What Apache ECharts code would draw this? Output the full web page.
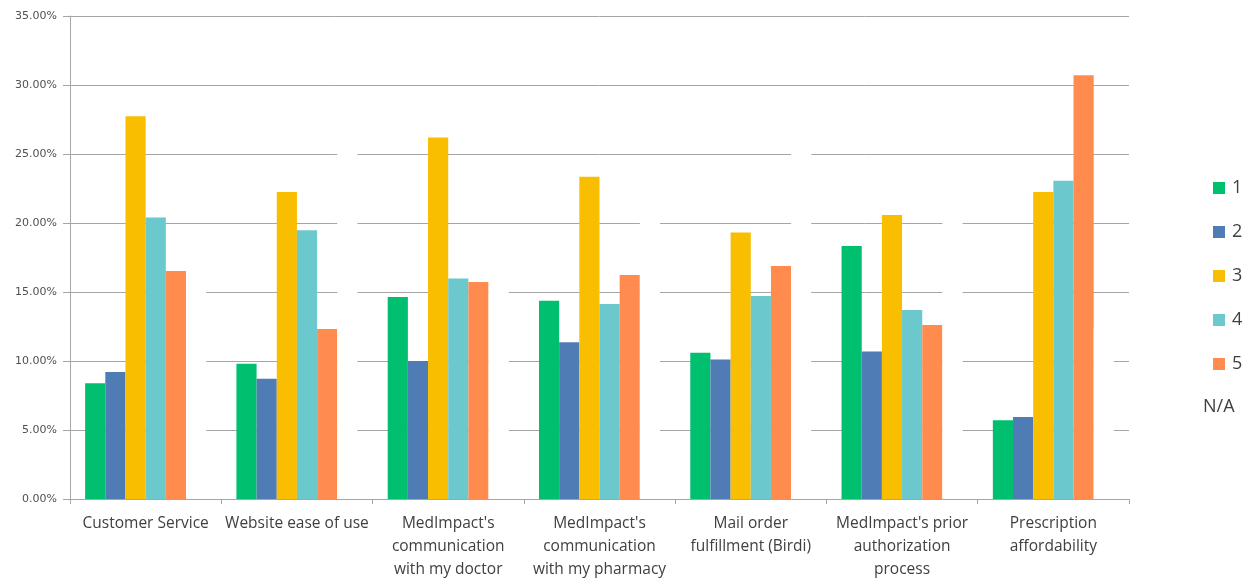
<!DOCTYPE html>
<html>
<head>
<meta charset="utf-8">
<script src="https://cdn.jsdelivr.net/npm/echarts@6/dist/echarts.min.js"></script>
<style>
  html, body { margin: 0; padding: 0; background: #fff; }
  #main { width: 1256px; height: 581px; }
</style>
</head>
<body>
<div id="main"></div>
<script>
// categories on the x axis
var categories = [
  "Customer Service",
  "Website ease of use",
  "MedImpact's\ncommunication\nwith my doctor",
  "MedImpact's\ncommunication\nwith my pharmacy",
  "Mail order\nfulfillment (Birdi)",
  "MedImpact's prior\nauthorization\nprocess",
  "Prescription\naffordability"
];

// rating shares, in percent
var rating1 = [8.38, 9.80, 14.64, 14.37, 10.60, 18.33, 5.70];
var rating2 = [9.20, 8.72, 10.00, 11.35, 10.10, 10.68, 5.94];
var rating3 = [27.73, 22.25, 26.20, 23.36, 19.32, 20.58, 22.25];
var rating4 = [20.40, 19.47, 15.97, 14.13, 14.71, 13.70, 23.06];
var rating5 = [16.52, 12.32, 15.72, 16.23, 16.88, 12.60, 30.70];
// N/A is drawn in white, so it only shows as gaps in the grid lines
var ratingNA = [17.77, 27.44, 17.47, 20.56, 28.39, 24.11, 12.35];

var yTicks = [0, 5, 10, 15, 20, 25, 30, 35];

var chart = echarts.init(document.getElementById('main'));

var labelFont = '"Open Sans", "Noto Sans", sans-serif';

function barSeries(name, data, color) {
  return {
    name: name,
    type: 'bar',
    barGap: '0%',
    barCategoryGap: '20%',
    itemStyle: { color: color },
    data: data
  };
}

var option = {
  animation: false,
  backgroundColor: '#ffffff',
  grid: {
    left: 70,
    right: 127,
    top: 16,
    bottom: 82
  },
  legend: [
    {
      orient: 'vertical',
      left: 1213,
      top: 179,
      padding: 0,
      itemWidth: 12,
      itemHeight: 12,
      itemGap: 26,
      icon: 'rect',
      selectedMode: false,
      textStyle: { fontFamily: labelFont, fontSize: 18, color: '#404040', lineHeight: 18, padding: [0, 0, 0, 2] },
      data: ['1', '2', '3', '4', '5']
    },
    {
      orient: 'vertical',
      left: 1198,
      top: 398,
      padding: 0,
      itemWidth: 0,
      itemHeight: 12,
      icon: 'rect',
      selectedMode: false,
      textStyle: { fontFamily: labelFont, fontSize: 18, color: '#404040', lineHeight: 18 },
      data: ['N/A']
    }
  ],
  xAxis: {
    type: 'category',
    data: categories,
    z: 10,
    axisLine: { lineStyle: { color: '#a6a6a6', width: 1 } },
    axisTick: { show: true, length: 5, lineStyle: { color: '#a6a6a6' } },
    axisLabel: {
      interval: 0,
      margin: 13,
      fontFamily: labelFont,
      fontSize: 15.5,
      lineHeight: 23,
      color: '#404040',
      align: 'center'
    }
  },
  yAxis: {
    type: 'value',
    min: yTicks[0],
    max: yTicks[yTicks.length - 1],
    interval: 5,
    axisLine: { show: true, lineStyle: { color: '#a6a6a6', width: 1 } },
    axisTick: { show: true, length: 7, lineStyle: { color: '#a6a6a6' } },
    splitLine: { lineStyle: { color: '#a6a6a6', width: 1 } },
    axisLabel: {
      margin: 13,
      fontFamily: '"DejaVu Sans", sans-serif',
      fontSize: 11,
      color: '#505050',
      formatter: function (v) { return v.toFixed(2) + '%'; }
    }
  },
  series: [
    barSeries('1', rating1, '#00bf6f'),
    barSeries('2', rating2, '#507cb6'),
    barSeries('3', rating3, '#f9be00'),
    barSeries('4', rating4, '#6bc8cd'),
    barSeries('5', rating5, '#ff8b4f'),
    barSeries('N/A', ratingNA, '#ffffff')
  ]
};

chart.setOption(option);
</script>
</body>
</html>
